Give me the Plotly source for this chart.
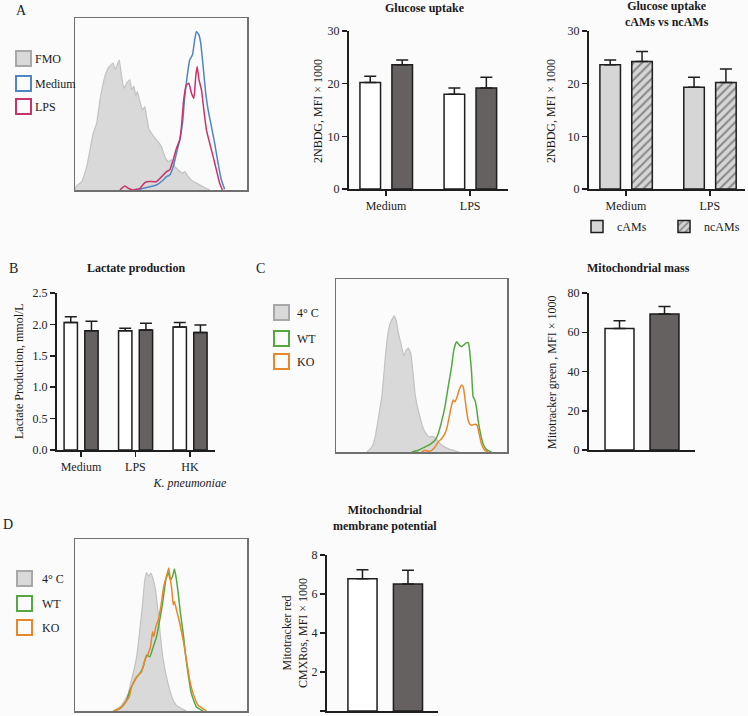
import plotly.graph_objects as go

W, H = 748, 716

# ---------------- DATA ----------------
# Panel A histogram (x: fluorescence, arbitrary 0-100; y: % of max)
A_fmo_x = [0, 0.6, 3.9, 6.8, 10.6, 12.6, 14.5, 17.4, 19.3, 22.2, 23.2, 24.6, 25.7, 27.1, 28.4, 30.0, 31.9, 32.9, 34.2, 35.4, 36.2, 37.7, 39.3, 40.6, 41.6, 43.1, 44.5, 45.8, 47.4, 48.9, 50.3, 52.2, 54.2, 56.1, 58.0, 60.0, 62.5, 63.8, 65.8, 68.7, 71.6, 74.5, 77.4, 78.5]
A_fmo_y = [0, 1.9, 4.9, 13.6, 33.0, 38.8, 52.4, 66.0, 70.9, 73.8, 69.9, 72.8, 75.7, 66.0, 59.2, 62.1, 64.1, 58.3, 60.2, 54.4, 57.3, 51.5, 46.6, 48.5, 42.7, 35.0, 33.0, 31.1, 29.1, 27.2, 25.2, 19.4, 16.5, 17.5, 13.6, 11.7, 9.7, 10.7, 7.8, 4.9, 3.5, 1.9, 0.4, 0]
A_med_x = [36.8, 39.7, 43.5, 47.4, 51.3, 53.2, 55.1, 57.1, 59.0, 60.9, 62.5, 63.8, 65.2, 66.7, 68.3, 69.6, 70.6, 72.0, 73.1, 74.5, 76.0, 77.4, 79.3, 81.2, 83.2, 85.1, 87.0]
A_med_y = [0, 1.0, 1.9, 2.9, 5.8, 7.8, 8.7, 13.6, 21.4, 29.1, 38.8, 54.4, 66.0, 75.7, 78.6, 87.4, 92.2, 90.3, 85.4, 71.8, 56.3, 46.6, 36.9, 27.2, 15.5, 5.8, 0.4]
A_lps_x = [26.1, 29.0, 30.9, 33.8, 37.7, 40.6, 42.6, 47.4, 51.3, 53.2, 55.1, 57.1, 59.0, 60.9, 61.9, 63.2, 64.8, 66.2, 67.7, 69.1, 70.2, 71.0, 72.1, 73.5, 74.9, 76.4, 78.3, 80.3, 82.2, 84.1, 85.7]
A_lps_y = [0, 2.3, 1.0, 0, 1.0, 4.3, 4.9, 4.9, 8.7, 10.7, 11.7, 17.5, 24.3, 29.1, 36.9, 52.4, 61.2, 62.1, 56.3, 53.4, 66.0, 71.8, 64.1, 58.3, 46.6, 35.0, 27.2, 19.4, 11.7, 3.9, 0]

# Panel C histogram
C_cold_x = [18.1, 21.0, 22.9, 24.9, 26.8, 28.7, 30.1, 31.7, 33.2, 34.0, 35.1, 36.5, 37.9, 39.0, 39.8, 41.0, 42.3, 43.7, 44.9, 46.2, 47.6, 49.1, 50.7, 52.6, 54.6, 56.9, 58.4, 60.8, 63.7, 66.6, 70.5, 72.0]
C_cold_y = [0, 2.9, 8.7, 20.3, 31.9, 53.2, 66.7, 74.5, 77.4, 78.7, 76.4, 68.7, 62.9, 58.0, 55.5, 59.0, 60.0, 57.1, 47.4, 33.8, 26.1, 20.3, 14.5, 10.6, 8.7, 9.1, 7.7, 4.8, 2.9, 1.5, 0.4, 0]
C_wt_x = [44.3, 48.2, 52.0, 55.0, 57.9, 59.8, 61.7, 63.7, 65.6, 67.6, 68.9, 70.5, 72.0, 73.4, 74.8, 76.3, 77.5, 78.3, 79.2, 80.2, 81.2, 82.1, 83.1, 84.5, 86.0, 88.0, 90.9]
C_wt_y = [0, 1.0, 2.9, 4.4, 6.8, 10.6, 17.4, 26.1, 37.7, 49.3, 59.0, 63.8, 61.9, 60.9, 61.9, 63.2, 62.9, 57.1, 47.4, 31.9, 30.0, 26.1, 18.4, 10.6, 4.8, 1.4, 0]
C_ko_x = [50.1, 52.0, 54.0, 55.9, 57.9, 59.8, 61.7, 63.7, 65.0, 66.2, 67.6, 68.5, 69.5, 70.5, 72.0, 73.4, 74.4, 75.3, 76.3, 77.3, 78.3, 79.6, 81.2, 82.5, 83.7, 85.0, 87.0, 88.9]
C_ko_y = [0, 1.0, 0.4, 1.0, 2.9, 5.8, 7.7, 10.6, 14.5, 20.3, 27.1, 30.0, 29.0, 30.9, 35.8, 38.7, 37.7, 31.9, 24.2, 18.4, 16.1, 15.5, 16.1, 15.5, 10.6, 4.8, 1.0, 0]

# Panel D histogram
D_cold_x = [22.2, 26.1, 28.4, 30.9, 32.3, 33.8, 35.8, 37.7, 39.3, 40.6, 41.6, 42.9, 44.1, 45.5, 46.8, 48.4, 49.7, 51.3, 53.2, 55.1, 57.1, 59.0, 61.9, 64.8]
D_cold_y = [0, 2.3, 5.3, 10.1, 16.0, 21.8, 31.5, 47.1, 62.6, 76.3, 80.5, 78.2, 80.2, 76.3, 70.4, 56.8, 43.2, 29.6, 19.8, 12.1, 6.2, 3.3, 1.4, 0]
D_wt_x = [23.2, 27.1, 30.0, 31.9, 33.8, 35.8, 37.7, 39.7, 41.6, 43.5, 45.5, 47.4, 48.9, 50.9, 52.8, 54.2, 55.5, 56.7, 57.8, 59.0, 60.0, 61.3, 62.9, 64.4, 66.0, 67.7, 70.6, 74.5]
D_wt_y = [0, 2.3, 6.2, 12.1, 16.0, 19.8, 21.8, 25.7, 32.5, 31.5, 37.4, 43.2, 51.0, 62.6, 76.3, 80.5, 76.3, 78.2, 82.5, 76.3, 68.5, 56.8, 45.1, 31.5, 19.8, 10.1, 2.3, 0]
D_ko_x = [22.2, 26.1, 29.0, 31.5, 32.9, 34.8, 36.8, 38.7, 40.6, 42.6, 43.9, 45.1, 45.8, 47.0, 48.4, 49.9, 51.6, 53.2, 54.5, 55.5, 56.3, 57.1, 57.8, 59.0, 60.9, 62.9, 64.8, 66.7, 68.7, 71.6, 76.4]
D_ko_y = [0, 1.4, 4.7, 8.2, 14.0, 17.9, 20.8, 22.8, 29.6, 33.5, 37.4, 46.1, 43.2, 49.0, 52.9, 60.7, 72.4, 78.2, 83.1, 76.3, 70.4, 61.7, 63.6, 58.8, 51.0, 41.2, 29.6, 17.9, 10.1, 3.3, 0]

# Glucose uptake (2NBDG, MFI x 1000)
glu_cats = ["Medium", "LPS"]
glu_white = [20.2, 18.0]
glu_white_err = [1.2, 1.2]
glu_dark = [23.6, 19.2]
glu_dark_err = [0.9, 2.0]

# Glucose uptake cAMs vs ncAMs
cam_cats = ["Medium", "LPS"]
cam_vals = [23.6, 19.3]
cam_err = [0.9, 1.9]
ncam_vals = [24.2, 20.2]
ncam_err = [1.9, 2.6]

# Lactate production (mmol/L)
lac_cats = ["Medium", "LPS", "HK"]
lac_labels = ["Medium", "LPS", "HK<br><i>K. pneumoniae</i>"]
lac_white = [2.03, 1.90, 1.96]
lac_white_err = [0.09, 0.04, 0.07]
lac_dark = [1.90, 1.91, 1.87]
lac_dark_err = [0.15, 0.11, 0.12]

# Mitochondrial mass (Mitotracker green, MFI x 1000)
mm_cats = ["WT", "KO"]
mm_vals = [61.9, 69.3]
mm_err = [3.9, 3.8]

# Mitochondrial membrane potential (CMXRos, MFI x 1000)
mp_cats = ["WT", "KO"]
mp_vals = [6.78, 6.51]
mp_err = [0.47, 0.71]

# ---------------- STYLE ----------------
FONT = "'Liberation Serif', 'DejaVu Serif', serif"
BG = "#fbfbfb"
INK = "#1e1e1e"
WHITE_BAR = "#ffffff"
DARK_BAR = "#646160"
LIGHT_BAR = "#d6d6d6"
GRAY_FILL = "#d9d9d9"
GRAY_LINE = "#c2c2c2"
BLUE = "#4f86c6"
RED = "#c8336b"
GREEN = "#55a840"
ORANGE = "#e8872a"


def px(x):
    return x / W


def py(y):
    return 1 - y / H


def dx(a, b):
    return [px(a), px(b)]


def dy(top, bottom):
    return [py(bottom), py(top)]


fig = go.Figure()


def hist_fill(xs, ys, ax):
    fig.add_trace(go.Scatter(x=xs, y=ys, mode="lines", fill="tozeroy",
                             fillcolor=GRAY_FILL, line=dict(color=GRAY_LINE, width=1.2, shape="spline", smoothing=0.4),
                             xaxis="x" + ax, yaxis="y" + ax, showlegend=False, hoverinfo="skip"))


def hist_line(xs, ys, color, ax):
    fig.add_trace(go.Scatter(x=xs, y=ys, mode="lines",
                             line=dict(color=color, width=1.5, shape="spline", smoothing=0.4),
                             xaxis="x" + ax, yaxis="y" + ax, showlegend=False, hoverinfo="skip"))


def err(vals):
    return dict(type="data", array=vals, arrayminus=[0] * len(vals), symmetric=False,
                color=INK, thickness=1.5, width=6)


def bars(xs, ys, e, color, ax, offset=None, width=None, name=None, legend=False, pattern=None):
    kw = {}
    if offset is not None:
        kw["offset"] = offset
    if width is not None:
        kw["width"] = width
    marker = dict(color=color, line=dict(color=INK, width=1.5))
    if pattern is not None:
        marker["pattern"] = pattern
    fig.add_trace(go.Bar(x=xs, y=ys, error_y=err(e), marker=marker,
                         xaxis="x" + ax, yaxis="y" + ax, name=name, showlegend=legend,
                         hoverinfo="skip", **kw))


ax_suffix = {1: "", 2: "2", 3: "3", 4: "4", 5: "5", 6: "6", 7: "7", 8: "8"}

# Panel A histogram
hist_fill(A_fmo_x, A_fmo_y, "")
hist_line(A_med_x, A_med_y, BLUE, "")
hist_line(A_lps_x, A_lps_y, RED, "")

# Glucose uptake
bars(glu_cats, glu_white, glu_white_err, WHITE_BAR, "2", offset=-0.31, width=0.245)
bars(glu_cats, glu_dark, glu_dark_err, DARK_BAR, "2", offset=0.07, width=0.245)

# cAMs vs ncAMs
bars(cam_cats, cam_vals, cam_err, LIGHT_BAR, "3", offset=-0.31, width=0.245, name="cAMs", legend=True)
bars(cam_cats, ncam_vals, ncam_err, LIGHT_BAR, "3", offset=0.07, width=0.245, name="ncAMs", legend=True,
     pattern=dict(shape="/", fgcolor="#3a3a3a", bgcolor=LIGHT_BAR, size=6, solidity=0.35))

# Lactate
bars(lac_cats, lac_white, lac_white_err, WHITE_BAR, "4", offset=-0.31, width=0.245)
bars(lac_cats, lac_dark, lac_dark_err, DARK_BAR, "4", offset=0.07, width=0.245)

# Panel C histogram
hist_fill(C_cold_x, C_cold_y, "5")
hist_line(C_wt_x, C_wt_y, GREEN, "5")
hist_line(C_ko_x, C_ko_y, ORANGE, "5")

# Mito mass
bars(mm_cats, mm_vals, mm_err, [WHITE_BAR, DARK_BAR], "6", width=0.644)

# Panel D histogram
hist_fill(D_cold_x, D_cold_y, "7")
hist_line(D_wt_x, D_wt_y, GREEN, "7")
hist_line(D_ko_x, D_ko_y, ORANGE, "7")

# Mito membrane potential
bars(mp_cats, mp_vals, mp_err, [WHITE_BAR, DARK_BAR], "8", width=0.64)


def hist_axes(n, xd, yd):
    s = ax_suffix[n]
    common = dict(showline=True, mirror=True, linecolor="#707070", linewidth=1.5,
                  showticklabels=False, ticks="", showgrid=False, zeroline=False, range=[0, 100],
                  fixedrange=True)
    fig.layout["xaxis" + s] = dict(domain=xd, anchor="y" + s, **common)
    fig.layout["yaxis" + s] = dict(domain=yd, anchor="x" + s, **common)


def bar_axes(n, xd, yd, xr, yr, yticks, xticks=True, tickvals=None, ticktext=None, yfmt=None):
    s = ax_suffix[n]
    xa = dict(domain=xd, anchor="y" + s, range=xr, showline=True, linecolor=INK, linewidth=2,
              showgrid=False, zeroline=False, tickfont=dict(size=12, color="#222"), type="category")
    if xticks:
        xa.update(ticks="outside", ticklen=5, tickwidth=1.5, tickcolor=INK)
        if tickvals is not None:
            xa.update(tickvals=tickvals, ticktext=ticktext)
    else:
        xa.update(ticks="", showticklabels=False)
    ya = dict(domain=yd, anchor="x" + s, range=yr, tickvals=yticks, showline=True, linecolor=INK,
              linewidth=2, ticks="outside", ticklen=5, tickwidth=1.5, tickcolor=INK,
              tickfont=dict(size=12, color="#222"), showgrid=False, zeroline=False)
    if yfmt:
        ya["tickformat"] = yfmt
    fig.layout["xaxis" + s] = xa
    fig.layout["yaxis" + s] = ya


hist_axes(1, dx(75, 247), dy(18, 190))
bar_axes(2, dx(349, 508), dy(31, 189), [-0.44, 1.45], [0, 30], [0, 10, 20, 30])
bar_axes(3, dx(589, 745), dy(31, 189), [-0.44, 1.42], [0, 30], [0, 10, 20, 30])
bar_axes(4, dx(57, 215), dy(293, 450), [-0.44, 2.46], [0, 2.5], [0, 0.5, 1.0, 1.5, 2.0, 2.5],
         tickvals=lac_cats, ticktext=lac_labels, yfmt=".1f")
hist_axes(5, dx(336, 507), dy(279, 452))
bar_axes(6, dx(589, 695), dy(293, 450), [-0.678, 1.678], [0, 80], [0, 20, 40, 60, 80], xticks=False)
hist_axes(7, dx(75, 247), dy(539, 711))
bar_axes(8, dx(327, 438), dy(555, 711), [-0.78, 1.66], [0, 8], [0, 2, 4, 6, 8], xticks=False)

annotations = []


def text(x, y, s, size=12, anchor="center", bold=False, angle=0, italic=False):
    if bold:
        s = "<b>" + s + "</b>"
    annotations.append(dict(x=px(x), y=py(y), xref="paper", yref="paper", text=s, showarrow=False,
                            xanchor=anchor, yanchor="middle", textangle=angle,
                            font=dict(family=FONT, size=size, color="#1a1a1a")))


# Panel letters
text(14, 10, "A", size=14, anchor="left")
text(7, 268, "B", size=14, anchor="left")
text(254, 268, "C", size=14, anchor="left")
text(1, 524, "D", size=14, anchor="left")

# Titles
text(425, 8, "Glucose uptake", bold=True)
text(667, 14, "Glucose uptake<br>cAMs vs ncAMs", bold=True)
text(136, 268, "Lactate production", bold=True)
text(638, 268, "Mitochondrial mass", bold=True)
text(385, 518, "Mitochondrial<br>membrane potential", bold=True)

# Y-axis titles
text(318, 111, "2NBDG, MFI × 1000", angle=-90)
text(551, 111, "2NBDG, MFI × 1000", angle=-90)
text(19, 371, "Lactate Production, mmol/L", angle=-90)
text(552, 373, "Mitotracker green , MFI × 1000", angle=-90)
text(295, 633, "Mitotracker red<br>CMXRos, MFI × 1000", angle=-90)

shapes = []


def legend_box(x0, y0, label, line_color, fill, tx):
    shapes.append(dict(type="rect", xref="paper", yref="paper", x0=px(x0), x1=px(x0 + 15),
                       y0=py(y0 + 15), y1=py(y0), line=dict(color=line_color, width=2), fillcolor=fill))
    text(tx, y0 + 8, label, anchor="left")


# Panel A legend
legend_box(16, 51, "FMO", "#a8a8a8", GRAY_FILL, 33)
legend_box(16, 76, "Medium", BLUE, BG, 33)
legend_box(16, 99, "LPS", RED, BG, 33)
# Panel C legend
legend_box(274, 305, "4° C", "#a8a8a8", GRAY_FILL, 295)
legend_box(274, 331, "WT", GREEN, BG, 295)
legend_box(274, 354, "KO", ORANGE, BG, 295)
# Panel D legend
legend_box(17, 571, "4° C", "#a8a8a8", GRAY_FILL, 40)
legend_box(17, 596, "WT", GREEN, BG, 40)
legend_box(17, 620, "KO", ORANGE, BG, 40)

fig.update_layout(
    width=W, height=H,
    margin=dict(l=0, r=0, t=0, b=0, autoexpand=False),
    paper_bgcolor=BG, plot_bgcolor=BG,
    font=dict(family=FONT, size=12, color="#1a1a1a"),
    barmode="overlay",
    annotations=annotations,
    shapes=shapes,
    showlegend=True,
    legend=dict(orientation="h", x=px(577), y=py(212), xanchor="left", yanchor="top",
                bgcolor="rgba(0,0,0,0)", font=dict(size=12), itemwidth=30,
                entrywidth=42, entrywidthmode="pixels", itemclick=False, itemdoubleclick=False),
)

fig.write_html("out.html",
               config={"displayModeBar": False, "staticPlot": True},
               post_script="document.body.style.margin='0';document.body.style.padding='0';"
                           "document.body.style.background='#fbfbfb';")
